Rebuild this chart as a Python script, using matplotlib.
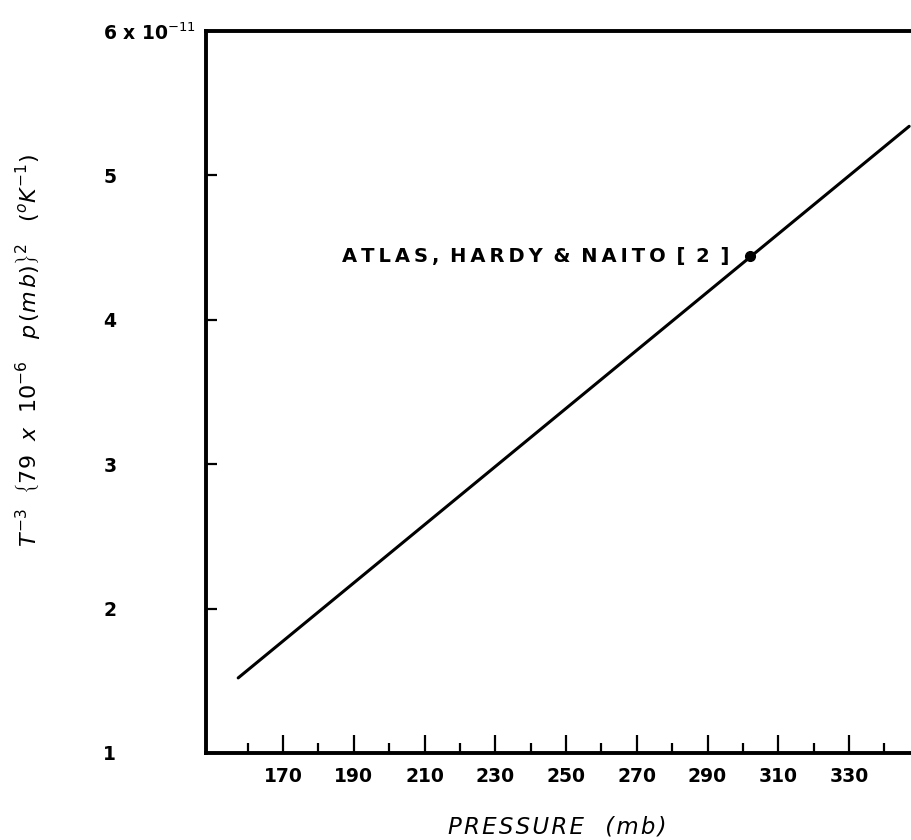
import matplotlib
matplotlib.use("Agg")
import matplotlib.pyplot as plt
from matplotlib.ticker import FixedLocator

# ---- data ----
line_pressure = [157.3, 347.0]          # mb
line_value = [1.52, 5.34]               # x 1e-11
point_pressure = [302.0]
point_value = [4.44]
point_label = "ATLAS, HARDY & NAITO [ 2 ]"
ytick_values = [1, 2, 3, 4, 5, 6]
ytick_labels = ["1", "2", "3", "4", "5", r"6 x 10$^{-11}$"]
xtick_major = [170, 190, 210, 230, 250, 270, 290, 310, 330]
xtick_minor = [160, 180, 200, 220, 240, 260, 280, 300, 320, 340]
xlabel_text = "PRESSURE  (mb)"

plt.rcParams['font.family'] = ['DejaVu Sans']
plt.rcParams['mathtext.fontset'] = 'dejavusans'

HAIR = "\u200a"


def spaced(s, inner=HAIR, near_space=HAIR):
    out = s[0]
    for a, b in zip(s[:-1], s[1:]):
        out += (near_space if (a == " " or b == " ") else inner) + b
    return out


W, H = 912, 840
fig = plt.figure(figsize=(W / 100, H / 100), dpi=100)
ax_left, ax_right, ax_top, ax_bot = 206, 912, 31, 753
ax = fig.add_axes([ax_left / W, 1 - ax_bot / H, (ax_right - ax_left) / W, (ax_bot - ax_top) / H])

ax.plot(line_pressure, line_value, color='black', lw=2.2, solid_capstyle='round')
ax.plot(point_pressure, point_value, 'o', color='black', ms=7)
ax.annotate(spaced(point_label, HAIR * 2, HAIR), (point_pressure[0], point_value[0]),
            xytext=(-15, 0), textcoords='offset points', ha='right', va='center',
            fontsize=14, fontweight='bold')

ax.set_xlim(148.2, 347.8)
ax.set_ylim(1, 6)

ax.spines['right'].set_visible(False)
for s in ['left', 'bottom', 'top']:
    ax.spines[s].set_linewidth(2.8)

ax.xaxis.set_major_locator(FixedLocator(xtick_major))
ax.xaxis.set_minor_locator(FixedLocator(xtick_minor))
ax.set_xticklabels([str(v) for v in xtick_major])
ax.tick_params(axis='x', which='major', direction='in', length=13, width=1.6,
               pad=10, labelsize=13.5)
ax.tick_params(axis='x', which='minor', direction='in', length=7, width=1.6)

ax.yaxis.set_major_locator(FixedLocator(ytick_values))
ax.set_yticklabels(ytick_labels)
ax.tick_params(axis='y', which='major', direction='in', length=8, width=1.6,
               pad=74, labelsize=13.5)
for lab in ax.get_yticklabels():
    lab.set_horizontalalignment('left')

for lab in ax.get_xticklabels() + ax.get_yticklabels():
    lab.set_fontweight('bold')

fig.text(557 / W, 1 - 827 / H, spaced(xlabel_text), ha='center', va='center',
         fontsize=16.5, fontstyle='italic')

ylabel = (r"$\mathit{T}^{-3}\ \ \left\{\mathit{79\ \ x\ \ 10^{-6}\ \ \ p\,(m\,b)}\right\}^{2}"
          r"\ \ \ (^{o}\mathit{K}^{-1})$")
fig.text(28 / W, 1 - 350 / H, ylabel, ha='center', va='center', rotation=90,
         fontsize=16)

fig.savefig("out.png", dpi=100)
